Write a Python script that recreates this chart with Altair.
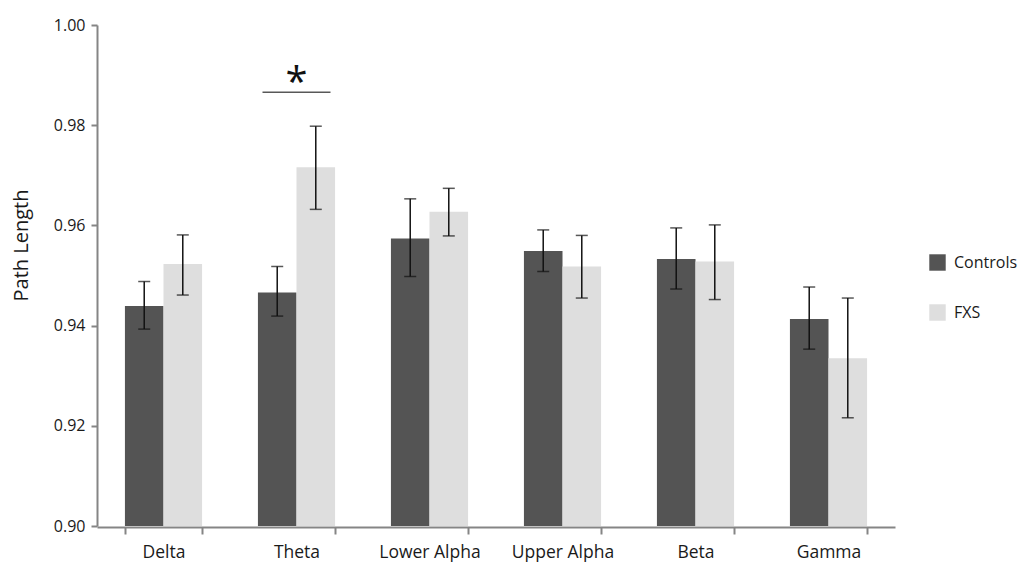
import altair as alt
import pandas as pd

bands = ["Delta", "Theta", "Lower Alpha", "Upper Alpha", "Beta", "Gamma"]
groups = ["Controls", "FXS"]
controls_mean = [0.9439, 0.9466, 0.9574, 0.9549, 0.9533, 0.9413]
controls_lo = [0.9393, 0.9419, 0.9498, 0.9508, 0.9473, 0.9353]
controls_hi = [0.9488, 0.9518, 0.9653, 0.9591, 0.9595, 0.9477]
fxs_mean = [0.9523, 0.9716, 0.9627, 0.9518, 0.9528, 0.9335]
fxs_lo = [0.9461, 0.9632, 0.9579, 0.9455, 0.9452, 0.9216]
fxs_hi = [0.9581, 0.9798, 0.9674, 0.9580, 0.9601, 0.9455]
sig_band = ["Theta"]
sig_y = [0.9866]

rows = []
for i, b in enumerate(bands):
    rows.append(dict(band=b, group="Controls", mean=controls_mean[i], lo=controls_lo[i], hi=controls_hi[i], base=0.90))
    rows.append(dict(band=b, group="FXS", mean=fxs_mean[i], lo=fxs_lo[i], hi=fxs_hi[i], base=0.90))
df = pd.DataFrame(rows)
sig = pd.DataFrame({"band": sig_band, "y": sig_y, "label": ["*"]})

FONT = "Open Sans"
AXIS_COL = "#858585"

x = alt.X("band:N", sort=bands, title=None,
          scale=alt.Scale(paddingInner=0.42, paddingOuter=0.21),
          axis=alt.Axis(tickBand="extent", labelAngle=0, labelFontSize=17.5, labelFont=FONT,
                        labelColor="#1a1a1a", domainColor=AXIS_COL, domainWidth=2,
                        tickColor=AXIS_COL, tickWidth=2, tickSize=7, labelPadding=9, offset=1))
xo = alt.XOffset("group:N", sort=groups)
y_scale = alt.Scale(domain=[0.90, 1.00], zero=False, nice=False)
y = alt.Y("mean:Q", scale=y_scale, title="Path Length",
          axis=alt.Axis(values=[0.90, 0.92, 0.94, 0.96, 0.98, 1.00], format=".2f",
                        labelFontSize=16, labelFont=FONT, labelColor="#1a1a1a",
                        titleFontSize=20, titleFont=FONT, titleFontWeight="normal",
                        titleColor="#1a1a1a", titlePadding=22, titleY=220,
                        domainColor=AXIS_COL, domainWidth=2, tickColor=AXIS_COL,
                        tickWidth=2, tickSize=6, grid=False, labelPadding=6))

color = alt.Color("group:N", sort=groups,
                  scale=alt.Scale(domain=groups, range=["#545454", "#dedede"]),
                  legend=alt.Legend(title=None, orient="none", legendX=832, legendY=229,
                                    symbolType="square", symbolSize=270, symbolStrokeWidth=0,
                                    labelFontSize=16, labelFont=FONT, labelColor="#1a1a1a",
                                    rowPadding=33, labelOffset=8, labelLimit=200))

bars = alt.Chart(df).mark_bar().encode(
    x=x, xOffset=xo, y=y, y2=alt.Y2("base:Q"), color=color)

err = alt.Chart(df).mark_rule(color="#111111", strokeWidth=1.5).encode(
    x=x, xOffset=xo, y=alt.Y("lo:Q", scale=y_scale), y2="hi:Q")
cap_lo = alt.Chart(df).mark_tick(color="#111111", thickness=1.5, size=12).encode(
    x=x, xOffset=xo, y=alt.Y("lo:Q", scale=y_scale))
cap_hi = alt.Chart(df).mark_tick(color="#111111", thickness=1.5, size=12).encode(
    x=x, xOffset=xo, y=alt.Y("hi:Q", scale=y_scale))

sig_line = alt.Chart(sig).mark_tick(color="#111111", thickness=1.5, size=68).encode(
    x=x, y=alt.Y("y:Q", scale=y_scale))
sig_text = alt.Chart(sig).mark_text(fontSize=40, font=FONT, color="#111111",
                                    baseline="middle", dy=-8).encode(
    x=x, y=alt.Y("y:Q", scale=y_scale), text="label:N")

chart = alt.layer(bars, err, cap_lo, cap_hi, sig_line, sig_text).properties(
    width=798, height=501,
    background="white",
    autosize=alt.AutoSizeParams(type="none"),
    padding={"left": 89, "top": 17, "right": 129, "bottom": 40},
).configure_view(strokeWidth=0, stroke=None)

chart.save("out.html", embed_options={"renderer": "svg", "actions": False})
